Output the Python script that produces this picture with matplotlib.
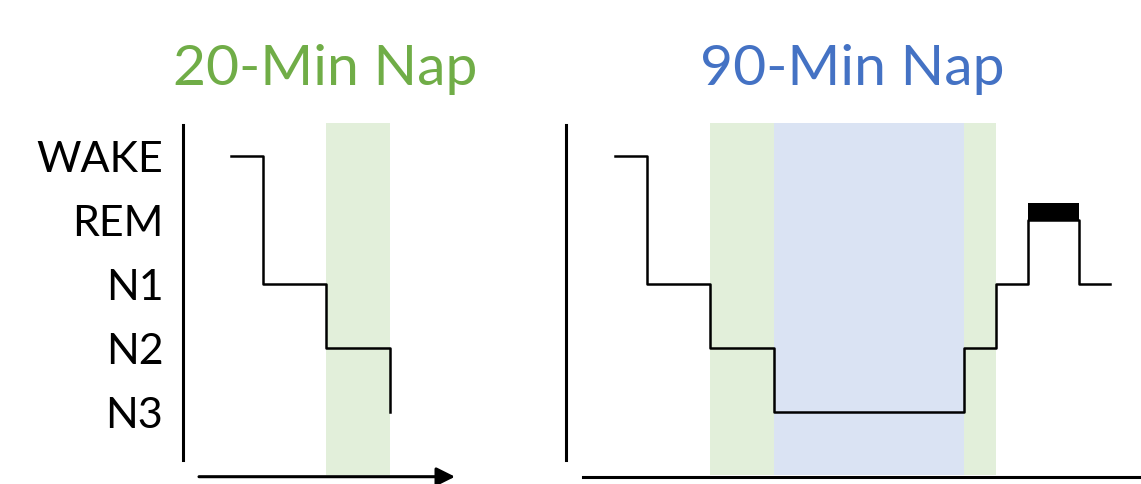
import matplotlib
matplotlib.use('Agg')
import matplotlib.pyplot as plt

# sleep stages, top to bottom
stage_names = ['WAKE', 'REM', 'N1', 'N2', 'N3']
stage_values = [4, 3, 2, 1, 0]

# 20-min nap hypnogram (minutes, stage at each change)
nap20_t = [0, 5, 15, 25]
nap20_stage = [4, 2, 1, 0]
nap20_green = [(15, 25)]

# 90-min nap hypnogram
nap90_t = [0, 5, 15, 25, 55, 60, 65, 73, 78]
nap90_stage = [4, 2, 1, 0, 1, 2, 3, 2, 2]
nap90_green = [(15, 25), (55, 60)]
nap90_blue = [(25, 55)]
nap90_rem = (65, 73)

green = '#70AD47'
blue = '#4472C4'
green_band = '#E2EFDA'
blue_band = '#DAE3F3'

W, H = 1141, 485
fig = plt.figure(figsize=(W / 100, H / 100), dpi=100)

px_per_min = 6.35
px_per_stage = 64
y_n3 = 413          # pixel row of N3 level
ax_top, ax_bot = 110, 485


def make_axes(left_px, right_px, t0_px):
    ax = fig.add_axes([left_px / W, 1 - ax_bot / H,
                       (right_px - left_px) / W, (ax_bot - ax_top) / H])
    ax.set_xlim((left_px - t0_px) / px_per_min, (right_px - t0_px) / px_per_min)
    ax.set_ylim((y_n3 - ax_bot) / px_per_stage, (y_n3 - ax_top) / px_per_stage)
    ax.patch.set_alpha(0)
    for s in ax.spines.values():
        s.set_visible(False)
    ax.set_xticks([])
    return ax


def to_t(px, t0_px):
    return (px - t0_px) / px_per_min


def to_s(py):
    return (y_n3 - py) / px_per_stage


band_lo, band_hi = to_s(475.7), to_s(124)

# ---- left panel: 20-min nap
axL = make_axes(170, 470, 231)
for a, b in nap20_green:
    axL.fill_between([a, b], band_lo, band_hi, color=green_band, lw=0, zorder=0)
axL.step(nap20_t, nap20_stage, where='post', color='black', lw=1.8, zorder=3)
axL.spines['left'].set_visible(True)
axL.spines['left'].set_position(('data', to_t(182.7, 231)))
axL.spines['left'].set_bounds(to_s(461), to_s(126))
axL.spines['left'].set_linewidth(2.2)
axL.set_yticks(stage_values)
axL.set_yticklabels(stage_names, fontfamily='Lato', fontsize=31)
axL.tick_params(axis='y', length=0, pad=14)
axL.annotate('', xy=(to_t(455, 231), to_s(477.7)), xytext=(to_t(199, 231), to_s(477.7)),
             arrowprops=dict(arrowstyle='-|>', lw=2.2, color='black',
                             mutation_scale=28, shrinkA=0, shrinkB=0),
             annotation_clip=False)

# ---- right panel: 90-min nap
axR = make_axes(560, 1141, 615)
for a, b in nap90_green:
    axR.fill_between([a, b], band_lo, band_hi, color=green_band, lw=0, zorder=0)
for a, b in nap90_blue:
    axR.fill_between([a, b], band_lo, band_hi, color=blue_band, lw=0, zorder=0)
axR.step(nap90_t, nap90_stage, where='post', color='black', lw=1.8, zorder=3)
axR.bar(nap90_rem[0], 0.27, width=nap90_rem[1] - nap90_rem[0], bottom=3,
        align='edge', color='black', zorder=3)
axR.spines['left'].set_visible(True)
axR.spines['left'].set_position(('data', to_t(566, 615)))
axR.spines['left'].set_bounds(to_s(461), to_s(126))
axR.spines['left'].set_linewidth(2.2)
axR.spines['bottom'].set_visible(True)
axR.spines['bottom'].set_position(('data', to_s(477.7)))
axR.spines['bottom'].set_bounds(to_t(582.7, 615), to_t(1141, 615))
axR.spines['bottom'].set_linewidth(2.2)
axR.set_yticks([])

# titles
fig.text(325.5 / W, 1 - 85 / H, '20-Min Nap', color=green, fontsize=41,
         fontfamily='Lato', ha='center', va='baseline')
fig.text(852 / W, 1 - 85 / H, '90-Min Nap', color=blue, fontsize=41,
         fontfamily='Lato', ha='center', va='baseline')

fig.savefig('out.png', dpi=100)
